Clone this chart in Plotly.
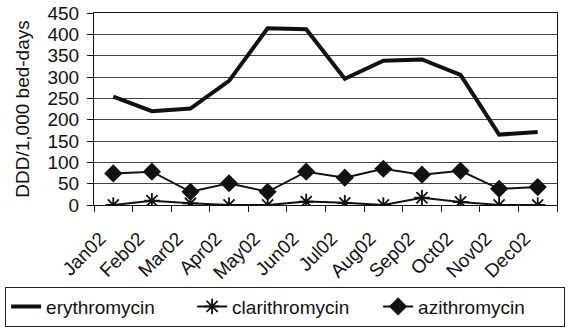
import plotly.graph_objects as go

months = ["Jan02", "Feb02", "Mar02", "Apr02", "May02", "Jun02",
          "Jul02", "Aug02", "Sep02", "Oct02", "Nov02", "Dec02"]
erythromycin = [254, 220, 226, 291, 414, 412, 296, 338, 341, 305, 165, 171]
clarithromycin = [0, 10, 4, 0, 0, 8, 5, 0, 17, 7, 0, 0]
azithromycin = [74, 78, 31, 51, 31, 78, 64, 85, 71, 80, 38, 42]
y_ticks = [0, 50, 100, 150, 200, 250, 300, 350, 400, 450]

FONT = "Liberation Sans, Arial, sans-serif"

fig = go.Figure()
fig.add_trace(go.Scatter(
    x=months, y=erythromycin, name="erythromycin", mode="lines",
    line=dict(color="#111111", width=4),
))
fig.add_trace(go.Scatter(
    x=months, y=clarithromycin, name="clarithromycin", mode="lines+markers",
    line=dict(color="#111111", width=2),
    marker=dict(symbol="asterisk-open", size=13, color="#111111",
                line=dict(color="#111111", width=1.8)),
))
fig.add_trace(go.Scatter(
    x=months, y=azithromycin, name="azithromycin", mode="lines+markers",
    line=dict(color="#111111", width=2),
    marker=dict(symbol="diamond", size=14, color="#111111"),
))

fig.update_layout(
    width=570, height=331,
    margin=dict(l=94, r=13, t=13, b=125.5, autoexpand=False),
    paper_bgcolor="white", plot_bgcolor="white",
    font=dict(family=FONT, size=19, color="#111111"),
    showlegend=True,
    legend=dict(
        orientation="h", x=-0.192, y=-0.425, xanchor="left", yanchor="top",
        bordercolor="#222222", borderwidth=1, bgcolor="white",
        font=dict(family=FONT, size=19, color="#111111"),
        entrywidth=141, entrywidthmode="pixels",
        itemclick=False,
    ),
    xaxis=dict(
        type="category", categoryorder="array", categoryarray=months,
        range=[-0.5, 11.5], tickangle=-45, tickson="boundaries",
        ticks="outside", ticklen=6, tickcolor="#111111",
        showline=True, linecolor="#111111", linewidth=1, mirror=True,
        showgrid=False, tickfont=dict(size=19), ticklabelshift=-13,
        ticklabelstandoff=14,
    ),
    yaxis=dict(
        range=[0, 450], tickvals=y_ticks, ticks="outside", ticklen=6,
        tickcolor="#111111", showline=True, linecolor="#111111",
        linewidth=1, mirror=True, showgrid=True, gridcolor="#444444",
        gridwidth=1, zeroline=False, tickfont=dict(size=19),
        ticklabelstandoff=4,
        title=dict(text="DDD/1,000 bed-days", font=dict(size=19), standoff=12),
    ),
)

fig.write_html("out.html")
